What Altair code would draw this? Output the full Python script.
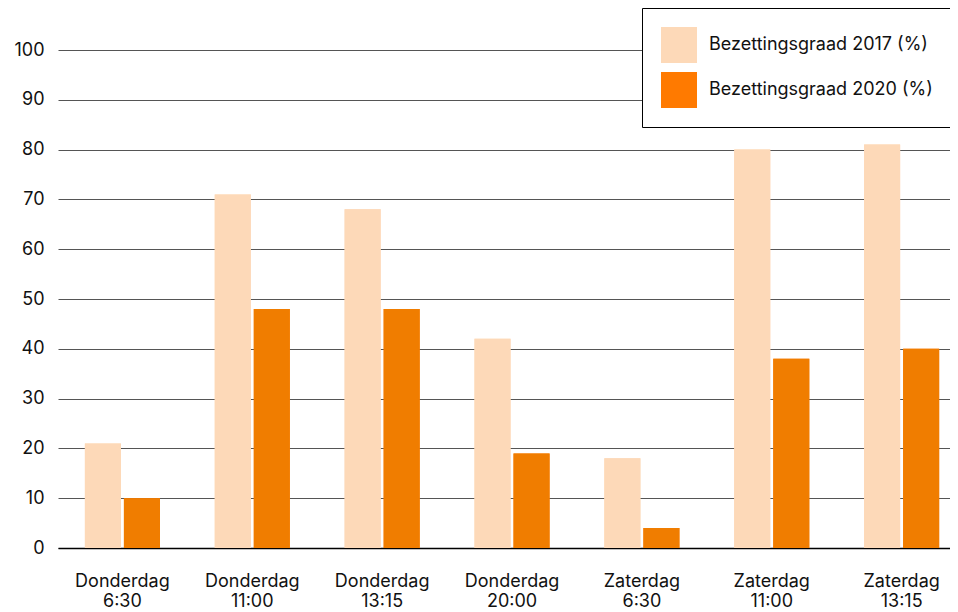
import altair as alt
import pandas as pd

categories = ["Donderdag|6:30", "Donderdag|11:00", "Donderdag|13:15", "Donderdag|20:00",
              "Zaterdag|6:30", "Zaterdag|11:00", "Zaterdag|13:15"]
series_names = ["Bezettingsgraad 2017 (%)", "Bezettingsgraad 2020 (%)"]
values_2017 = [21, 71, 68, 42, 18, 80, 81]
values_2020 = [10, 48, 48, 19, 4, 38, 40]
y_ticks = [0, 10, 20, 30, 40, 50, 60, 70, 80, 90, 100]
bar_colors = ["#FDD9B8", "#F07D00"]
swatch_colors = ["#FDD9B8", "#FF7A00"]

rows = []
for c, a, b in zip(categories, values_2017, values_2020):
    rows.append({"cat": c, "series": series_names[0], "value": a})
    rows.append({"cat": c, "series": series_names[1], "value": b})
df = pd.DataFrame(rows)

FONT = "Inter"

x_enc = alt.X("cat:N", sort=categories,
              scale=alt.Scale(paddingInner=0.422, paddingOuter=0.176, align=0.588),
              axis=alt.Axis(title=None, labelAngle=0, labelFontSize=18, labelPadding=24,
                            labelColor="#111", ticks=False, domainColor="#000", domainWidth=1.5,
                            labelExpr="split(datum.label, '|')", labelLineHeight=20,
                            labelBaseline="top", labelFont=FONT))
xoff_enc = alt.XOffset("series:N", sort=series_names,
                       scale=alt.Scale(paddingInner=0.077, paddingOuter=0))
y_enc = alt.Y("value:Q", scale=alt.Scale(domain=[0, 100], nice=False),
              axis=alt.Axis(title=None, values=y_ticks, grid=True, gridColor="#555",
                            gridWidth=1, domain=False, ticks=False, labelPadding=14,
                            labelFontSize=18, labelColor="#111", labelFont=FONT))

base = alt.Chart(df)

# bottom layer carries the legend (swatch colours); top layer paints the bars
legend_bars = base.mark_bar().encode(
    x=x_enc, xOffset=xoff_enc, y=y_enc,
    color=alt.Color("series:N", sort=series_names,
                    scale=alt.Scale(domain=series_names, range=swatch_colors),
                    legend=alt.Legend(title=None, orient="none", legendX=584, legendY=-42,
                                      fillColor="white", strokeColor="#000",
                                      padding=19, symbolType="square", symbolSize=1296,
                                      symbolStrokeWidth=0, symbolOpacity=1,
                                      labelFontSize=18, labelOffset=12, rowPadding=9,
                                      labelLimit=400, labelFont=FONT, labelColor="#111")),
)

bars = base.mark_bar().encode(
    x=x_enc, xOffset=xoff_enc, y=y_enc,
    fill=alt.Fill("series:N", sort=series_names,
                  scale=alt.Scale(domain=series_names, range=bar_colors), legend=None),
)

chart = alt.layer(legend_bars, bars).properties(
    width=900, height=498,
    autosize=alt.AutoSizeParams(type="none"),
    padding={"left": 50, "top": 42, "right": -8, "bottom": 63},
).configure_view(stroke=None)

chart.save("out.html", embed_options={"renderer": "svg", "actions": False})
